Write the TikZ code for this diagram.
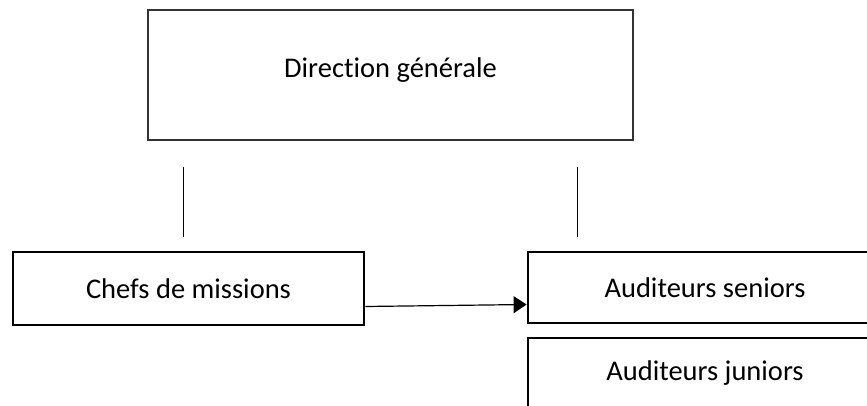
\documentclass[tikz,border=0pt]{standalone}
\usepackage{fontspec}
\setmainfont[Ligatures=NoCommon]{Carlito}
\usetikzlibrary{arrows.meta}
\begin{document}
\begin{tikzpicture}[x=1pt,y=-1pt,
  orgbox/.style={draw, rectangle, inner sep=0pt, font=\fontsize{28.5}{32}\selectfont},
  topbox/.style={orgbox, line width=1.6pt, draw=black!80},
  unitbox/.style={orgbox, line width=2.8pt},
  link/.style={line width=1pt},
  flow/.style={line width=1.2pt, -{Triangle[length=13pt,width=17pt]}}]
\useasboundingbox (0,0) rectangle (867,406);
\clip (0,0) rectangle (867,406);
% head of the organisation
\node[topbox, minimum width=485, minimum height=130] (dg) at (390.5,75) {\raisebox{15pt}{Direction générale}};
% free-standing links under the head box
\coordinate (l1) at (183,167);
\coordinate (l2) at (183,237);
\coordinate (r1) at (577,167);
\coordinate (r2) at (577,237);
\draw[link] (l1) -- (l2);
\draw[link] (r1) -- (r2);
% operational levels
\node[unitbox, minimum width=351, minimum height=73] (chefs) at (188.5,288.5) {Chefs de missions};
\node[unitbox, minimum width=354, minimum height=71] (seniors) at (705,287.5) {Auditeurs seniors};
\node[unitbox, minimum width=354, minimum height=71] (juniors) at (705,373.5) {Auditeurs juniors};
\draw[flow] ([yshift=-18pt]chefs.east) -- ([yshift=-17pt]seniors.west);
\end{tikzpicture}
\end{document}
